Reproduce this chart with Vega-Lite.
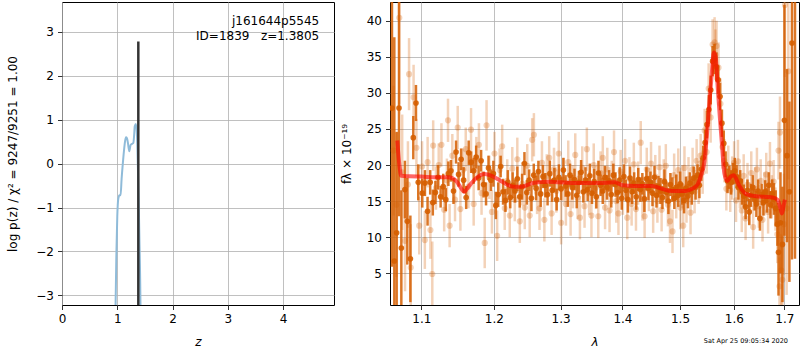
{
"$schema": "https://vega.github.io/schema/vega-lite/v6.json",
"background": "white",
"padding": {"left": 5, "top": 1, "right": 0, "bottom": 0},
"bounds": "flush",
"spacing": 56,
"config": {
  "font": "DejaVu Sans",
  "view": {"stroke": "black", "strokeWidth": 1},
  "axis": {"domain": false, "grid": true, "gridColor": "#b0b0b0", "gridWidth": 0.8, "tickColor": "black", "tickSize": 4.5, "tickWidth": 0.8, "labelFontSize": 12, "labelColor": "black", "labelPadding": 4, "titleFontSize": 12, "titleFontWeight": "normal", "titleColor": "black", "labelFlush": false, "labelOverlap": false}
},
"datasets": {
  "pz": [
    {"z":0.95,"p":-6},{"z":0.968,"p":-3.3},{"z":0.985,"p":-2.0},{"z":1.0,"p":-1.2},{"z":1.018,"p":-0.8},{"z":1.04,"p":-0.72},{"z":1.06,"p":-0.72},{"z":1.078,"p":-0.35},{"z":1.10,"p":0.0},{"z":1.12,"p":0.28},{"z":1.14,"p":0.5},{"z":1.157,"p":0.6},{"z":1.175,"p":0.58},{"z":1.195,"p":0.45},{"z":1.217,"p":0.28},{"z":1.242,"p":0.43},{"z":1.265,"p":0.45},{"z":1.29,"p":0.47},{"z":1.305,"p":0.65},{"z":1.316,"p":0.85},{"z":1.338,"p":0.9},{"z":1.358,"p":0.6},{"z":1.373,"p":-0.1},{"z":1.388,"p":-0.9},{"z":1.40,"p":-1.7},{"z":1.42,"p":-3.3},{"z":1.43,"p":-5}
  ],
  "model": [
    {"l":1.0688,"m":23.4},{"l":1.0715,"m":20.0},{"l":1.0738,"m":18.5},{"l":1.085,"m":18.45},{"l":1.10,"m":18.4},{"l":1.12,"m":18.3},{"l":1.136,"m":18.3},{"l":1.147,"m":17.8},{"l":1.153,"m":16.9},{"l":1.158,"m":16.3},{"l":1.164,"m":17.0},{"l":1.175,"m":18.2},{"l":1.187,"m":18.75},{"l":1.197,"m":18.5},{"l":1.21,"m":17.8},{"l":1.229,"m":17.0},{"l":1.24,"m":17.0},{"l":1.257,"m":17.5},{"l":1.281,"m":17.7},{"l":1.32,"m":17.5},{"l":1.36,"m":17.5},{"l":1.387,"m":17.6},{"l":1.40,"m":17.2},{"l":1.42,"m":17.1},{"l":1.451,"m":17.1},{"l":1.468,"m":16.7},{"l":1.485,"m":16.4},{"l":1.498,"m":16.4},{"l":1.51,"m":16.4},{"l":1.522,"m":16.7},{"l":1.532,"m":17.3},{"l":1.538,"m":18.5},{"l":1.5446,"m":20.5},{"l":1.549,"m":24.0},{"l":1.553,"m":27.8},{"l":1.558,"m":32.5},{"l":1.562,"m":35.6},{"l":1.5655,"m":35.0},{"l":1.5696,"m":30.5},{"l":1.5735,"m":26.5},{"l":1.577,"m":23.2},{"l":1.582,"m":18.8},{"l":1.5875,"m":17.8},{"l":1.594,"m":18.4},{"l":1.600,"m":18.6},{"l":1.61,"m":17.2},{"l":1.623,"m":16.0},{"l":1.64,"m":15.7},{"l":1.676,"m":15.5},{"l":1.686,"m":15.2},{"l":1.692,"m":14.0},{"l":1.695,"m":13.3},{"l":1.698,"m":14.2},{"l":1.701,"m":15.2}
  ],
  "dark": [
    {"l":1.062,"f":27.9,"e":22},{"l":1.065,"f":6.7,"e":31},{"l":1.068,"f":10.6,"e":14},{"l":1.071,"f":27.9,"e":15},{"l":1.074,"f":8.5,"e":8},{"l":1.0786,"f":16.6,"e":4},{"l":1.0817,"f":12.2,"e":6},{"l":1.0857,"f":7.0,"e":6},{"l":1.0895,"f":23.8,"e":3},{"l":1.093,"f":28.6,"e":2.5},{"l":1.096,"f":17.6,"e":2.5},
    {"l":1.1013,"f":16.1,"e":2},{"l":1.1048,"f":17.5,"e":1.8},{"l":1.1083,"f":13.6,"e":2},{"l":1.1118,"f":17.6,"e":1.7},{"l":1.1153,"f":14.8,"e":1.8},{"l":1.1188,"f":16.2,"e":1.6},{"l":1.1223,"f":18.3,"e":1.7},{"l":1.1258,"f":15.6,"e":1.5},{"l":1.1293,"f":17.0,"e":1.8},{"l":1.1328,"f":15.2,"e":1.6},
    {"l":1.1363,"f":18.8,"e":1.7},{"l":1.1398,"f":19.2,"e":1.5},{"l":1.1433,"f":16.4,"e":1.8},{"l":1.1468,"f":21.8,"e":1.6},{"l":1.1503,"f":18.7,"e":1.7},{"l":1.1538,"f":20.8,"e":1.5},{"l":1.1573,"f":17.9,"e":1.8},{"l":1.1608,"f":15.5,"e":1.6},{"l":1.1643,"f":21.7,"e":1.7},{"l":1.1678,"f":20.4,"e":1.5},
    {"l":1.1713,"f":19.2,"e":1.8},{"l":1.1748,"f":21.1,"e":1.6},{"l":1.1783,"f":18.2,"e":1.7},{"l":1.1818,"f":20.6,"e":1.5},{"l":1.1853,"f":17.3,"e":1.8},{"l":1.1888,"f":16.0,"e":1.6},{"l":1.1923,"f":19.6,"e":1.7},{"l":1.1958,"f":17.9,"e":1.5},{"l":1.1993,"f":18.8,"e":1.8},{"l":1.2028,"f":14.4,"e":1.9},
    {"l":1.2063,"f":15.9,"e":1.7},{"l":1.2098,"f":19.8,"e":1.5},{"l":1.2133,"f":16.3,"e":1.8},{"l":1.2168,"f":15.1,"e":1.6},{"l":1.2203,"f":17.6,"e":1.7},{"l":1.2238,"f":15.5,"e":1.5},{"l":1.2273,"f":17.2,"e":1.8},{"l":1.2308,"f":16.4,"e":1.6},{"l":1.2343,"f":18.1,"e":1.7},{"l":1.2378,"f":15.6,"e":1.5},
    {"l":1.2413,"f":17.0,"e":1.8},{"l":1.2448,"f":20.2,"e":1.6},{"l":1.2483,"f":16.2,"e":1.7},{"l":1.2518,"f":17.9,"e":1.5},{"l":1.2553,"f":15.4,"e":1.8},{"l":1.2588,"f":18.6,"e":1.6},{"l":1.2623,"f":16.8,"e":1.7},{"l":1.2658,"f":19.1,"e":1.5},{"l":1.2693,"f":16.0,"e":1.8},{"l":1.2728,"f":18.4,"e":1.6},
    {"l":1.2763,"f":17.2,"e":1.7},{"l":1.2798,"f":15.9,"e":1.5},{"l":1.2833,"f":18.8,"e":1.8},{"l":1.2868,"f":16.5,"e":1.6},{"l":1.2903,"f":17.9,"e":1.7},{"l":1.2938,"f":15.2,"e":1.5},{"l":1.2973,"f":18.3,"e":1.8},{"l":1.3008,"f":16.7,"e":1.6},{"l":1.3043,"f":19.3,"e":1.7},{"l":1.3078,"f":17.1,"e":1.5},
    {"l":1.3113,"f":16.0,"e":1.8},{"l":1.3148,"f":18.6,"e":1.6},{"l":1.3183,"f":16.9,"e":1.7},{"l":1.3218,"f":18.0,"e":1.5},{"l":1.3253,"f":15.8,"e":1.8},{"l":1.3288,"f":17.6,"e":1.6},{"l":1.3323,"f":19.0,"e":1.7},{"l":1.3358,"f":16.3,"e":1.5},{"l":1.3393,"f":17.9,"e":1.8},{"l":1.3428,"f":16.6,"e":1.6},
    {"l":1.3463,"f":18.5,"e":1.7},{"l":1.3498,"f":16.1,"e":1.5},{"l":1.3533,"f":17.7,"e":1.8},{"l":1.3568,"f":15.6,"e":1.6},{"l":1.3603,"f":18.9,"e":1.7},{"l":1.3638,"f":17.2,"e":1.5},{"l":1.3673,"f":16.4,"e":1.8},{"l":1.3708,"f":18.3,"e":1.6},{"l":1.3743,"f":16.9,"e":1.7},{"l":1.3778,"f":17.8,"e":1.5},
    {"l":1.3813,"f":15.9,"e":1.8},{"l":1.3848,"f":18.6,"e":1.6},{"l":1.3883,"f":17.3,"e":1.7},{"l":1.3918,"f":16.2,"e":1.5},{"l":1.3953,"f":17.9,"e":1.8},{"l":1.3988,"f":15.4,"e":1.6},{"l":1.4023,"f":18.4,"e":1.7},{"l":1.4058,"f":16.5,"e":1.5},{"l":1.4093,"f":15.2,"e":1.8},{"l":1.4128,"f":18.2,"e":1.6},
    {"l":1.4163,"f":16.3,"e":1.7},{"l":1.4198,"f":17.5,"e":1.5},{"l":1.4233,"f":15.6,"e":1.8},{"l":1.4268,"f":18.0,"e":1.6},{"l":1.4303,"f":16.6,"e":1.7},{"l":1.4338,"f":17.4,"e":1.5},{"l":1.4373,"f":15.3,"e":1.8},{"l":1.4408,"f":18.1,"e":1.6},{"l":1.4443,"f":16.8,"e":1.7},{"l":1.4478,"f":17.6,"e":1.5},
    {"l":1.4513,"f":16.1,"e":1.8},{"l":1.4548,"f":18.3,"e":1.6},{"l":1.4583,"f":15.8,"e":1.7},{"l":1.4618,"f":17.0,"e":1.5},{"l":1.4653,"f":16.4,"e":1.8},{"l":1.4688,"f":15.5,"e":1.6},{"l":1.4723,"f":17.7,"e":1.7},{"l":1.4758,"f":16.2,"e":1.5},{"l":1.4793,"f":15.0,"e":1.8},{"l":1.4828,"f":17.3,"e":1.6},
    {"l":1.4863,"f":16.6,"e":1.7},{"l":1.4898,"f":15.4,"e":1.5},{"l":1.4933,"f":16.9,"e":1.8},{"l":1.4968,"f":15.8,"e":1.6},{"l":1.5003,"f":17.4,"e":1.7},{"l":1.5038,"f":16.0,"e":1.5},{"l":1.5073,"f":15.1,"e":1.8},{"l":1.5108,"f":16.8,"e":1.6},{"l":1.5143,"f":15.7,"e":1.7},{"l":1.5178,"f":17.5,"e":1.5},
    {"l":1.5213,"f":16.3,"e":1.8},{"l":1.5248,"f":18.2,"e":1.6},{"l":1.5283,"f":16.9,"e":1.7},{"l":1.5318,"f":18.6,"e":1.5},{"l":1.5353,"f":17.2,"e":1.8},{"l":1.5388,"f":19.4,"e":1.6},{"l":1.5423,"f":21.0,"e":1.7},{"l":1.5458,"f":23.1,"e":1.8},{"l":1.5493,"f":25.6,"e":1.9},{"l":1.5528,"f":27.7,"e":2.0},
    {"l":1.5563,"f":30.4,"e":2.0},{"l":1.5598,"f":34.4,"e":2.1},{"l":1.5633,"f":34.7,"e":2.1},{"l":1.5668,"f":33.6,"e":2.0},{"l":1.5703,"f":31.8,"e":2.0},{"l":1.5738,"f":29.5,"e":1.9},{"l":1.5773,"f":25.8,"e":1.9},{"l":1.5808,"f":23.0,"e":1.8},{"l":1.5843,"f":20.1,"e":1.8},{"l":1.5878,"f":17.8,"e":1.7},
    {"l":1.5913,"f":18.3,"e":1.6},{"l":1.5948,"f":17.6,"e":1.7},{"l":1.5983,"f":18.8,"e":1.5},{"l":1.6018,"f":19.2,"e":1.8},{"l":1.6053,"f":18.4,"e":1.6},{"l":1.6088,"f":16.9,"e":1.7},{"l":1.6123,"f":17.8,"e":1.5},{"l":1.6158,"f":16.3,"e":1.8},{"l":1.6193,"f":15.7,"e":1.6},{"l":1.6228,"f":14.2,"e":1.7},
    {"l":1.6263,"f":16.5,"e":1.5},{"l":1.6298,"f":13.5,"e":1.8},{"l":1.6333,"f":15.8,"e":1.6},{"l":1.6368,"f":16.9,"e":1.7},{"l":1.6403,"f":15.2,"e":1.5},{"l":1.6438,"f":14.6,"e":1.8},{"l":1.6473,"f":16.4,"e":1.6},{"l":1.6508,"f":12.6,"e":1.7},{"l":1.6543,"f":15.9,"e":1.5},{"l":1.6578,"f":14.8,"e":1.8},
    {"l":1.6613,"f":16.3,"e":1.6},{"l":1.6648,"f":15.1,"e":1.7},{"l":1.6683,"f":17.2,"e":1.8},{"l":1.6718,"f":14.5,"e":1.9},{"l":1.6753,"f":16.0,"e":2.0},{"l":1.6788,"f":15.3,"e":2.2},{"l":1.6823,"f":14.0,"e":2.5},
    {"l":1.6858,"f":11.8,"e":3},{"l":1.688,"f":7.9,"e":6},{"l":1.692,"f":12.0,"e":7},{"l":1.696,"f":9.0,"e":8},{"l":1.700,"f":26.2,"e":16},{"l":1.7053,"f":21.3,"e":12},{"l":1.7102,"f":16.3,"e":12.5},{"l":1.7155,"f":36.9,"e":30},{"l":1.7217,"f":44,"e":37}
  ],
  "light": [
    {"l":1.064,"f":22.0,"e":9},{"l":1.0677,"f":14.5,"e":10},{"l":1.0714,"f":40.4,"e":12},{"l":1.0751,"f":19.0,"e":8},{"l":1.0788,"f":9.5,"e":7},{"l":1.0825,"f":17.3,"e":6},{"l":1.084,"f":32.6,"e":5},{"l":1.0862,"f":5.8,"e":6},{"l":1.0899,"f":29.4,"e":4.5},{"l":1.0936,"f":22.4,"e":4},
    {"l":1.0973,"f":11.6,"e":4},{"l":1.101,"f":19.8,"e":3.5},{"l":1.1047,"f":9.6,"e":4},{"l":1.1084,"f":20.4,"e":3.5},{"l":1.1121,"f":11.0,"e":4},{"l":1.1146,"f":4.9,"e":4.5},{"l":1.1158,"f":22.7,"e":3.5},{"l":1.1195,"f":16.8,"e":3},{"l":1.1232,"f":20.0,"e":3},{"l":1.1269,"f":22.8,"e":3},
    {"l":1.1306,"f":13.8,"e":3},{"l":1.1343,"f":17.9,"e":3},{"l":1.1358,"f":26.2,"e":3},{"l":1.138,"f":11.6,"e":3},{"l":1.1417,"f":21.3,"e":3},{"l":1.1454,"f":15.2,"e":3},{"l":1.1491,"f":25.2,"e":3},{"l":1.1528,"f":13.9,"e":3},{"l":1.1565,"f":19.3,"e":3},{"l":1.1602,"f":22.2,"e":3},
    {"l":1.1639,"f":17.0,"e":3},{"l":1.1676,"f":24.9,"e":3},{"l":1.1713,"f":14.6,"e":3},{"l":1.175,"f":20.9,"e":3},{"l":1.1787,"f":22.8,"e":3},{"l":1.1824,"f":16.1,"e":3},{"l":1.1869,"f":9.2,"e":3.5},{"l":1.1895,"f":25.5,"e":3.5},{"l":1.1935,"f":18.3,"e":3},{"l":1.1972,"f":13.5,"e":3},
    {"l":1.2009,"f":21.6,"e":3},{"l":1.2047,"f":10.2,"e":3.5},{"l":1.2083,"f":19.3,"e":3},{"l":1.212,"f":22.6,"e":3},{"l":1.2157,"f":14.0,"e":3},{"l":1.2194,"f":17.8,"e":3},{"l":1.2231,"f":13.0,"e":3},{"l":1.2268,"f":19.5,"e":3},{"l":1.2305,"f":15.2,"e":3},{"l":1.2342,"f":20.8,"e":3},
    {"l":1.2379,"f":12.2,"e":3},{"l":1.2416,"f":17.4,"e":3},{"l":1.2453,"f":14.1,"e":3},{"l":1.249,"f":19.9,"e":3},{"l":1.2527,"f":13.0,"e":3},{"l":1.2564,"f":23.5,"e":3},{"l":1.259,"f":24.2,"e":3},{"l":1.2638,"f":16.2,"e":3},{"l":1.2675,"f":14.0,"e":3},{"l":1.2712,"f":20.3,"e":3},
    {"l":1.2749,"f":12.4,"e":3},{"l":1.2786,"f":18.5,"e":3},{"l":1.2823,"f":21.0,"e":3},{"l":1.286,"f":13.3,"e":3},{"l":1.2897,"f":19.4,"e":3},{"l":1.2934,"f":16.4,"e":3},{"l":1.2971,"f":21.6,"e":3},{"l":1.3008,"f":12.0,"e":3},{"l":1.3045,"f":18.0,"e":3},{"l":1.3082,"f":14.6,"e":3},
    {"l":1.3119,"f":20.4,"e":3},{"l":1.3156,"f":13.2,"e":3},{"l":1.3193,"f":17.0,"e":3},{"l":1.323,"f":21.4,"e":3},{"l":1.3267,"f":15.5,"e":3},{"l":1.3304,"f":12.7,"e":3},{"l":1.3341,"f":19.6,"e":3},{"l":1.3378,"f":14.3,"e":3},{"l":1.3415,"f":22.2,"e":3},{"l":1.3452,"f":16.1,"e":3},
    {"l":1.3489,"f":13.0,"e":3},{"l":1.3526,"f":20.0,"e":3},{"l":1.3563,"f":16.9,"e":3},{"l":1.36,"f":12.9,"e":3},{"l":1.3637,"f":18.9,"e":3},{"l":1.3674,"f":21.0,"e":3},{"l":1.3711,"f":14.1,"e":3},{"l":1.3748,"f":19.4,"e":3},{"l":1.3785,"f":13.7,"e":3},{"l":1.3822,"f":17.6,"e":3},
    {"l":1.3859,"f":21.8,"e":3},{"l":1.3896,"f":15.0,"e":3},{"l":1.3933,"f":13.3,"e":3},{"l":1.397,"f":19.1,"e":3},{"l":1.4007,"f":16.1,"e":3},{"l":1.4044,"f":20.6,"e":3},{"l":1.4081,"f":12.7,"e":3},{"l":1.4118,"f":18.1,"e":3},{"l":1.4155,"f":14.6,"e":3},{"l":1.4192,"f":20.1,"e":3},
    {"l":1.4229,"f":13.9,"e":3},{"l":1.4266,"f":17.5,"e":3},{"l":1.431,"f":23.1,"e":3},{"l":1.434,"f":15.3,"e":3},{"l":1.4377,"f":12.9,"e":3},{"l":1.4414,"f":19.4,"e":3},{"l":1.4451,"f":16.6,"e":3},{"l":1.4488,"f":20.2,"e":3},{"l":1.4525,"f":13.6,"e":3},{"l":1.4562,"f":18.4,"e":3},
    {"l":1.4599,"f":15.0,"e":3},{"l":1.4636,"f":19.7,"e":3},{"l":1.4673,"f":13.8,"e":3},{"l":1.471,"f":17.8,"e":3},{"l":1.4747,"f":19.9,"e":3},{"l":1.4784,"f":14.5,"e":3},{"l":1.4821,"f":12.2,"e":3},{"l":1.4866,"f":10.8,"e":3},{"l":1.4895,"f":18.6,"e":3},{"l":1.4932,"f":15.6,"e":3},
    {"l":1.4969,"f":19.3,"e":3},{"l":1.5006,"f":14.1,"e":3},{"l":1.5043,"f":17.0,"e":3},{"l":1.5058,"f":11.6,"e":3},{"l":1.508,"f":19.6,"e":3},{"l":1.5117,"f":15.0,"e":3},{"l":1.5154,"f":18.1,"e":3},{"l":1.5191,"f":13.4,"e":3},{"l":1.5228,"f":19.4,"e":3},{"l":1.5265,"f":16.3,"e":3},
    {"l":1.5302,"f":20.6,"e":3},{"l":1.5339,"f":17.6,"e":3},{"l":1.5376,"f":21.3,"e":3},{"l":1.5413,"f":19.0,"e":3},{"l":1.545,"f":24.8,"e":3},{"l":1.5487,"f":21.8,"e":3},{"l":1.5524,"f":30.6,"e":3.5},{"l":1.5561,"f":26.6,"e":3.5},{"l":1.5598,"f":36.7,"e":3.5},{"l":1.5635,"f":37.0,"e":3.5},
    {"l":1.565,"f":35.3,"e":3.5},{"l":1.5672,"f":36.5,"e":3.5},{"l":1.5709,"f":33.5,"e":3.5},{"l":1.5746,"f":28.5,"e":3.5},{"l":1.5783,"f":22.5,"e":3},{"l":1.582,"f":20.6,"e":3},{"l":1.5857,"f":16.7,"e":3},{"l":1.5894,"f":19.7,"e":3},{"l":1.5931,"f":16.5,"e":3},{"l":1.5968,"f":18.2,"e":3},
    {"l":1.6005,"f":20.3,"e":3},{"l":1.6042,"f":15.1,"e":3},{"l":1.6079,"f":20.5,"e":3},{"l":1.6116,"f":17.0,"e":3},{"l":1.6153,"f":13.7,"e":3},{"l":1.619,"f":18.5,"e":3},{"l":1.6227,"f":12.6,"e":3},{"l":1.6264,"f":17.3,"e":3},{"l":1.6301,"f":14.6,"e":3},{"l":1.6338,"f":18.9,"e":3},
    {"l":1.6375,"f":11.4,"e":3},{"l":1.6412,"f":16.7,"e":3},{"l":1.6449,"f":19.4,"e":3},{"l":1.6486,"f":14.3,"e":3},{"l":1.6523,"f":17.8,"e":3},{"l":1.656,"f":12.4,"e":3},{"l":1.6597,"f":16.0,"e":3},{"l":1.6634,"f":18.7,"e":3},{"l":1.6671,"f":13.5,"e":3},{"l":1.6708,"f":20.2,"e":3},
    {"l":1.6745,"f":15.6,"e":3},{"l":1.6782,"f":17.7,"e":3},{"l":1.6819,"f":13.9,"e":3},{"l":1.6856,"f":10.4,"e":4},{"l":1.688,"f":22.0,"e":4},{"l":1.69,"f":3.2,"e":4},{"l":1.691,"f":24.5,"e":5},{"l":1.6935,"f":5.4,"e":5},{"l":1.6958,"f":4.1,"e":6},{"l":1.699,"f":11.8,"e":7},
    {"l":1.701,"f":42.2,"e":10},{"l":1.7045,"f":14.0,"e":12},{"l":1.708,"f":33.0,"e":15}
  ]
},
"hconcat": [
  {
    "width": 272, "height": 303,
    "layer": [
      {"data": {"name": "pz"}, "mark": {"type": "line", "color": "#8fbbd9", "strokeWidth": 2, "clip": true, "interpolate": "monotone"},
       "encoding": {
         "x": {"field": "z", "type": "quantitative", "title": "z", "scale": {"domain": [0, 4.92], "nice": false}, "axis": {"values": [0, 1, 2, 3, 4], "format": "d", "titleFontStyle": "italic", "titleBaseline": "alphabetic", "titleY": 40}},
         "y": {"field": "p", "type": "quantitative", "title": "log p(z) / χ² = 9247/9251 = 1.00", "scale": {"domain": [-3.22, 3.68], "nice": false, "zero": false}, "axis": {"values": [-3, -2, -1, 0, 1, 2, 3], "titleBaseline": "middle", "titleX": -50, "titleY": 151.5}}
       }},
      {"data": {"values": [{"z": 1.3805, "y1": -3.22, "y2": 2.78}]}, "mark": {"type": "rule", "color": "#333333", "strokeWidth": 2.5},
       "encoding": {"x": {"field": "z", "type": "quantitative", "title": "z"}, "y": {"field": "y1", "type": "quantitative", "title": "log p(z) / χ² = 9247/9251 = 1.00"}, "y2": {"field": "y2"}}},
      {"data": {"values": [{}]}, "mark": {"type": "text", "align": "right", "baseline": "middle", "fontSize": 12, "color": "black"},
       "encoding": {"x": {"datum": 4.653}, "y": {"datum": 3.245}, "text": {"value": "j161644p5545"}}},
      {"data": {"values": [{}]}, "mark": {"type": "text", "align": "right", "baseline": "middle", "fontSize": 12, "color": "black"},
       "encoding": {"x": {"datum": 4.653}, "y": {"datum": 2.905}, "text": {"value": "ID=1839\u00a0\u00a0\u00a0z=1.3805"}}}
    ]
  },
  {
    "width": 409, "height": 303,
    "layer": [
      {"data": {"name": "light"}, "mark": {"type": "errorbar", "color": "#d55e00", "opacity": 0.28, "thickness": 2.5, "clip": true},
       "encoding": {
         "x": {"field": "l", "type": "quantitative", "title": "λ", "scale": {"type": "log", "domain": [1.0595, 1.73], "nice": false}, "axis": {"values": [1.1, 1.2, 1.3, 1.4, 1.5, 1.6, 1.7], "format": ".1f", "titleFontStyle": "italic", "titleBaseline": "alphabetic", "titleY": 40.5}},
         "y": {"field": "f", "type": "quantitative", "title": "fλ × 10⁻¹⁹", "scale": {"domain": [0.6, 42.6], "nice": false, "zero": false}, "axis": {"values": [5, 10, 15, 20, 25, 30, 35, 40], "titleBaseline": "middle", "titleX": -44, "titleY": 151.5}},
         "yError": {"field": "e"}}},
      {"data": {"name": "light"}, "mark": {"type": "point", "filled": true, "color": "#d55e00", "opacity": 0.28, "size": 38, "clip": true},
       "encoding": {"x": {"field": "l", "type": "quantitative", "title": "λ"}, "y": {"field": "f", "type": "quantitative", "title": "fλ × 10⁻¹⁹"}}},
      {"data": {"name": "dark"}, "mark": {"type": "errorbar", "color": "#d55e00", "opacity": 0.85, "thickness": 2.5, "clip": true},
       "encoding": {"x": {"field": "l", "type": "quantitative", "title": "λ"}, "y": {"field": "f", "type": "quantitative", "title": "fλ × 10⁻¹⁹"}, "yError": {"field": "e"}}},
      {"data": {"name": "dark"}, "mark": {"type": "point", "filled": true, "color": "#d55e00", "opacity": 0.9, "size": 32, "clip": true},
       "encoding": {"x": {"field": "l", "type": "quantitative", "title": "λ"}, "y": {"field": "f", "type": "quantitative", "title": "fλ × 10⁻¹⁹"}}},
      {"data": {"name": "model"}, "mark": {"type": "line", "color": "#ff0000", "opacity": 0.6, "strokeWidth": 4, "clip": true, "interpolate": "monotone"},
       "encoding": {"x": {"field": "l", "type": "quantitative", "title": "λ"}, "y": {"field": "m", "type": "quantitative", "title": "fλ × 10⁻¹⁹"}}},
      {"data": {"values": [{}]}, "mark": {"type": "text", "align": "right", "baseline": "alphabetic", "fontSize": 6.5, "color": "black"},
       "encoding": {"x": {"datum": 1.7073}, "y": {"datum": -4.68}, "text": {"value": "Sat Apr 25 09:05:34 2020"}}}
    ]
  }
]
}
